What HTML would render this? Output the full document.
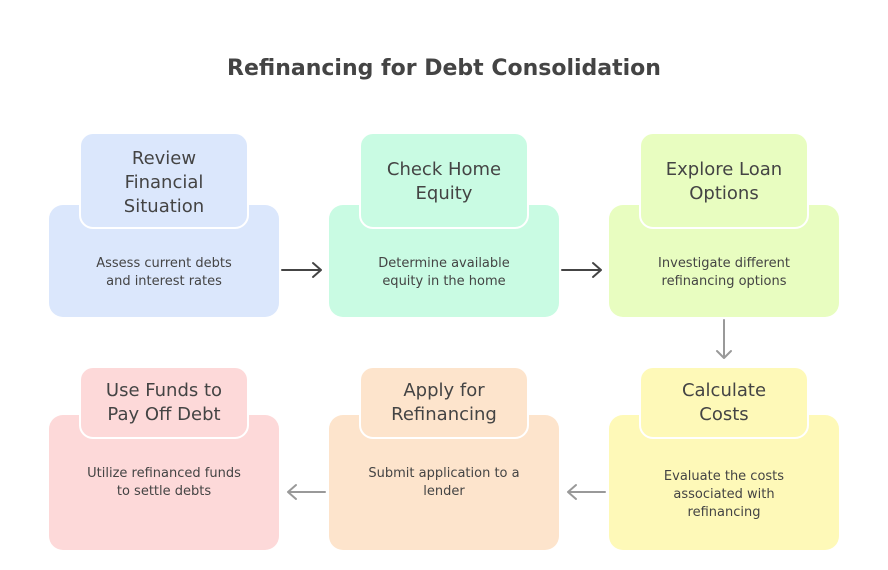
<!DOCTYPE html>
<html><head><meta charset="utf-8"><style>
body{margin:0;width:888px;height:570px;background:#fff;position:relative;overflow:hidden;font-family:"DejaVu Sans","Liberation Sans",sans-serif;color:#444}
.m,.t{position:absolute;box-sizing:border-box;border-radius:14px;display:flex;align-items:center;justify-content:center;text-align:center}
.m{font-size:13px;line-height:18px;padding:0 10px}
.t{border:2px solid #fff;font-size:18px;line-height:24px;padding:0 4px}
h1{position:absolute;left:0;width:888px;top:56px;margin:0;text-align:center;font-size:22px;font-weight:bold;color:#444}
</style></head><body>
<h1>Refinancing for Debt Consolidation</h1>

<div class="m" style="left:49px;top:205px;width:230px;height:112px;background:#dbe7fc;padding-top:24px">Assess current debts<br>and interest rates</div>
<div class="t" style="left:79px;top:132px;width:170px;height:97px;background:#dbe7fc;padding-top:4px">Review<br>Financial<br>Situation</div>

<div class="m" style="left:329px;top:205px;width:230px;height:112px;background:#c9fbe3;padding-top:24px">Determine available<br>equity in the home</div>
<div class="t" style="left:359px;top:132px;width:170px;height:97px;background:#c9fbe3;padding-top:2px">Check Home<br>Equity</div>

<div class="m" style="left:609px;top:205px;width:230px;height:112px;background:#e8fdc0;padding-top:24px">Investigate different<br>refinancing options</div>
<div class="t" style="left:639px;top:132px;width:170px;height:97px;background:#e8fdc0;padding-top:2px">Explore Loan<br>Options</div>

<div class="m" style="left:609px;top:415px;width:230px;height:135px;background:#fef9b8;padding-top:24px">Evaluate the costs<br>associated with<br>refinancing</div>
<div class="t" style="left:639px;top:366px;width:170px;height:73px;background:#fef9b8">Calculate<br>Costs</div>

<div class="m" style="left:329px;top:415px;width:230px;height:135px;background:#fde4cc;padding-top:0px">Submit application to a<br>lender</div>
<div class="t" style="left:359px;top:366px;width:170px;height:73px;background:#fde4cc">Apply for<br>Refinancing</div>

<div class="m" style="left:49px;top:415px;width:230px;height:135px;background:#fdd9d9;padding-top:0px">Utilize refinanced funds<br>to settle debts</div>
<div class="t" style="left:79px;top:366px;width:170px;height:73px;background:#fdd9d9">Use Funds to<br>Pay Off Debt</div>

<svg width="888" height="570" style="position:absolute;left:0;top:0" fill="none" stroke-width="2" stroke-linecap="round" stroke-linejoin="round">
<g stroke="#444"><path d="M282 270H321M313 263L321 270L313 277"/><path d="M562 270H601M593 263L601 270L593 277"/></g>
<g stroke="#999"><path d="M724 320V358M717 351L724 358L731 351"/><path d="M605 492H568M576 485L568 492L576 499"/><path d="M325 492H288M296 485L288 492L296 499"/></g>
</svg>
</body></html>
